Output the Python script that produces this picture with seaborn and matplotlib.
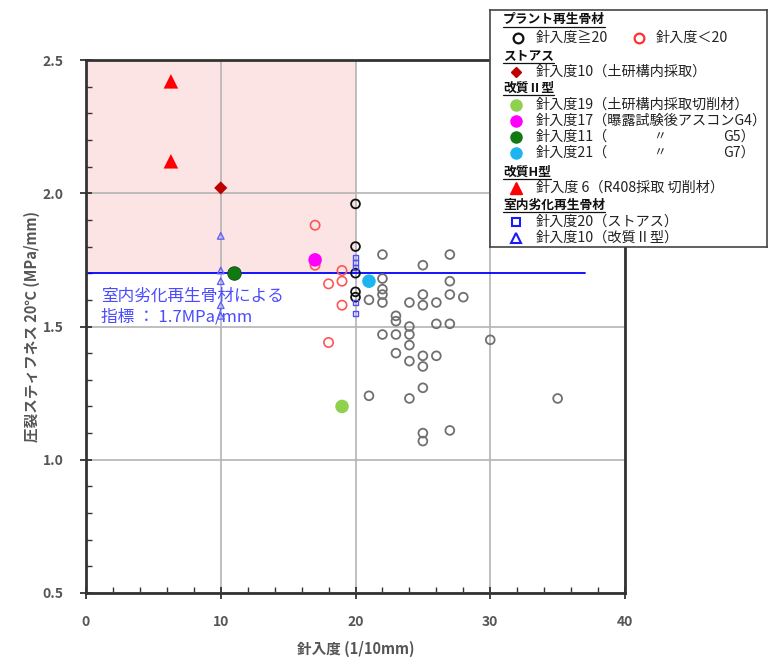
import matplotlib
matplotlib.use("Agg")
import matplotlib.pyplot as plt
import seaborn as sns
import pandas as pd
from matplotlib.patches import Rectangle

sns.set_style("white")
plt.rcParams['font.family'] = ['Noto Sans CJK JP', 'DejaVu Sans']

# ---------------- data ----------------
# プラント再生骨材 針入度>=20
plant_ge20_x = [20, 20, 20, 20, 20,
                22, 27, 25, 22, 22, 22, 27, 27, 25, 25, 28, 21, 22, 24, 26,
                23, 23, 24, 26, 27, 22, 23, 24, 24, 23, 25, 26, 24, 25, 25,
                21, 24, 30, 25, 25, 27, 35]
plant_ge20_y = [1.96, 1.80, 1.70, 1.63, 1.61,
                1.77, 1.77, 1.73, 1.68, 1.64, 1.62, 1.67, 1.62, 1.62, 1.58, 1.61, 1.60, 1.59, 1.59, 1.59,
                1.54, 1.52, 1.50, 1.51, 1.51, 1.47, 1.47, 1.47, 1.43, 1.40, 1.39, 1.39, 1.37, 1.35, 1.27,
                1.24, 1.23, 1.45, 1.10, 1.07, 1.11, 1.23]
# プラント再生骨材 針入度<20
plant_lt20_x = [17, 17, 19, 19, 18, 19, 18]
plant_lt20_y = [1.88, 1.73, 1.71, 1.67, 1.66, 1.58, 1.44]
# ストアス 針入度10
straight_x = [10]
straight_y = [2.02]
# 改質II型
k2_19_x, k2_19_y = [19], [1.20]
k2_17_x, k2_17_y = [17], [1.75]
k2_11_x, k2_11_y = [11], [1.70]
k2_21_x, k2_21_y = [21], [1.67]
# 改質H型 針入度6
kh_x = [6.3, 6.3]
kh_y = [2.42, 2.12]
# 室内劣化再生骨材
lab_st_x = [20, 20, 20, 20, 20]
lab_st_y = [1.76, 1.74, 1.72, 1.59, 1.55]
lab_k2_x = [10, 10, 10, 10, 10]
lab_k2_y = [1.84, 1.71, 1.67, 1.58, 1.54]

threshold = 1.7
x_ticks = [0, 10, 20, 30, 40]
y_ticks = [0.5, 1.0, 1.5, 2.0, 2.5]
y_ticklabels = ["0.5", "1.0", "1.5", "2.0", "2.5"]

# ---------------- figure ----------------
W, H = 770, 657
fig = plt.figure(figsize=(W / 100, H / 100), dpi=100)
ax = fig.add_axes([86 / W, 1 - 593 / H, (625 - 86) / W, (593 - 60) / H])
ax.set_xlim(0, 40)
ax.set_ylim(0.5, 2.5)

# shaded target region and threshold line
ax.add_patch(Rectangle((0, threshold), 20, 2.5 - threshold, facecolor="#fde4e4",
                       edgecolor="none", zorder=0))
ax.grid(True, color="#b4b4b4", linewidth=1.2, zorder=1)
ax.set_axisbelow(True)
ax.plot([0, 37], [threshold, threshold], color="#0000ff", linewidth=1.3, zorder=2)

ax.text(1.1, 1.615, "室内劣化再生骨材による", color="#4a4aff", fontsize=12,
        va="center", ha="left", zorder=3)
ax.text(1.1, 1.535, "指標 ： 1.7MPa/mm", color="#4a4aff", fontsize=12,
        va="center", ha="left", zorder=3)

df_ge = pd.DataFrame({"x": plant_ge20_x, "y": plant_ge20_y})
edge_ge = ["#111111" if x == 20 else "#707070" for x in plant_ge20_x]
ax.scatter(df_ge["x"], df_ge["y"], s=40, facecolors="none", edgecolors=edge_ge,
           linewidths=1.3, zorder=4)
sns.scatterplot(x=plant_lt20_x, y=plant_lt20_y, ax=ax, s=45, marker="o",
                facecolor="none", edgecolor="#ff5555", linewidth=1.2, zorder=4)
sns.scatterplot(x=lab_st_x, y=lab_st_y, ax=ax, s=14, marker="s",
                facecolor="none", edgecolor="#4d4dff", linewidth=1.0, zorder=5)
sns.scatterplot(x=lab_k2_x, y=lab_k2_y, ax=ax, s=22, marker="^",
                facecolor="none", edgecolor="#6060ff", linewidth=1.0, zorder=5)
sns.scatterplot(x=straight_x, y=straight_y, ax=ax, s=45, marker="D",
                color="#c00000", edgecolor="none", zorder=6)
sns.scatterplot(x=kh_x, y=kh_y, ax=ax, s=110, marker="^",
                color="#ff0000", edgecolor="none", zorder=6)
sns.scatterplot(x=k2_19_x, y=k2_19_y, ax=ax, s=95, color="#8fd14f", edgecolor="none", zorder=6)
sns.scatterplot(x=k2_17_x, y=k2_17_y, ax=ax, s=95, color="#ff00ff", edgecolor="none", zorder=6)
sns.scatterplot(x=k2_11_x, y=k2_11_y, ax=ax, s=95, color="#107a10", edgecolor="#0a4a0a",
                linewidth=0.6, zorder=6)
sns.scatterplot(x=k2_21_x, y=k2_21_y, ax=ax, s=95, color="#1eb4f0", edgecolor="none", zorder=6)

# ticks / spines
ax.set_xticks(x_ticks)
ax.set_xticklabels([str(v) for v in x_ticks])
ax.set_yticks(y_ticks)
ax.set_yticklabels(y_ticklabels)
ax.set_xticks([v for v in range(0, 41, 2) if v % 10], minor=True)
ax.set_yticks([0.5 + 0.1 * i for i in range(21) if i % 5], minor=True)
ax.tick_params(which="major", direction="inout", length=8, width=1.3, color="#333333",
               labelsize=10, labelcolor="#555555", pad=12, left=True, bottom=True)
ax.tick_params(which="minor", direction="in", length=4, width=1.0, color="#333333",
               left=True, bottom=True)
for lab in ax.get_xticklabels() + ax.get_yticklabels():
    lab.set_fontweight("bold")
for sp in ax.spines.values():
    sp.set_color("#333333")
    sp.set_linewidth(2)
    sp.set_visible(True)

ax.set_xlabel("針入度 (1/10mm)", fontsize=10.5, color="#555555", fontweight="bold", labelpad=8)
ax.set_ylabel("圧裂スティフネス 20℃ (MPa/mm)", fontsize=10.5, color="#555555",
              fontweight="bold", labelpad=2)

# ---------------- legend box ----------------
lx0, ly0, lw, lh = 490, 10, 277, 237
lax = fig.add_axes([lx0 / W, 1 - (ly0 + lh) / H, lw / W, lh / H])
lax.set_xlim(0, lw)
lax.set_ylim(lh, 0)
lax.set_xticks([])
lax.set_yticks([])
lax.set_facecolor("white")
for sp in lax.spines.values():
    sp.set_color("#444444")
    sp.set_linewidth(1.2)

FS = 10.2
legend_rows = [
    ("h", "プラント再生骨材", None, None),
    ("pair", "針入度≧20", "針入度＜20", None),
    ("h", "ストアス", None, None),
    ("i", "針入度10（土研構内採取）", dict(marker="D", color="#c00000", ms=5.5, mfc="#c00000"), None),
    ("h", "改質Ⅱ型", None, None),
    ("i", "針入度19（土研構内採取切削材）", dict(marker="o", color="#8fd14f", ms=8, mfc="#8fd14f"), None),
    ("i", "針入度17（曝露試験後アスコンG4）", dict(marker="o", color="#ff00ff", ms=8, mfc="#ff00ff"), None),
    ("i", "針入度11（", dict(marker="o", color="#107a10", ms=8, mfc="#107a10"), "G5）"),
    ("i", "針入度21（", dict(marker="o", color="#1eb4f0", ms=8, mfc="#1eb4f0"), "G7）"),
    ("h", "改質H型", None, None),
    ("i", "針入度 6（R408採取 切削材）", dict(marker="^", color="#ff0000", ms=8, mfc="#ff0000"), None),
    ("h", "室内劣化再生骨材", None, None),
    ("i", "針入度20（ストアス）", dict(marker="s", color="#1a1aff", ms=6, mfc="none", mew=1.5), None),
    ("i", "針入度10（改質Ⅱ型）", dict(marker="^", color="#1a1aff", ms=6.5, mfc="none", mew=1.5), None),
]
row_y = [10, 28, 46, 62, 78, 95, 111, 127, 143, 162, 178, 195, 212, 228]

headers = []
for (kind, text, extra, tail), yy in zip(legend_rows, row_y):
    if kind == "h":
        t = lax.text(13, yy, text, fontsize=9.2, fontweight="bold", color="#111111",
                     va="center", ha="left")
        headers.append((t, yy))
    elif kind == "pair":
        lax.plot([28], [yy], marker="o", ms=7, mfc="none", mec="#111111", mew=1.6, ls="none")
        lax.text(46, yy, text, fontsize=FS, color="#222222", va="center", ha="left")
        lax.plot([149], [yy], marker="o", ms=7, mfc="none", mec="#ff3030", mew=1.6, ls="none")
        lax.text(166, yy, extra, fontsize=FS, color="#222222", va="center", ha="left")
    else:
        lax.plot([26], [yy], ls="none", mec=extra.get("color"), **extra)
        lax.text(46, yy, text, fontsize=FS, color="#222222", va="center", ha="left")
        if tail is not None:
            lax.text(163, yy, "〃", fontsize=FS - 1, color="#222222", va="center", ha="left")
            lax.text(233, yy, tail, fontsize=FS, color="#222222", va="center", ha="left")

fig.canvas.draw()
renderer = fig.canvas.get_renderer()
inv = lax.transData.inverted()
for t, yy in headers:
    bb = t.get_window_extent(renderer)
    (x0, _), (x1, _) = inv.transform([(bb.x0, bb.y0), (bb.x1, bb.y0)])
    lax.plot([x0, x1], [yy + 7.5, yy + 7.5], color="#111111", linewidth=0.9)

fig.savefig("out.png", dpi=100)
